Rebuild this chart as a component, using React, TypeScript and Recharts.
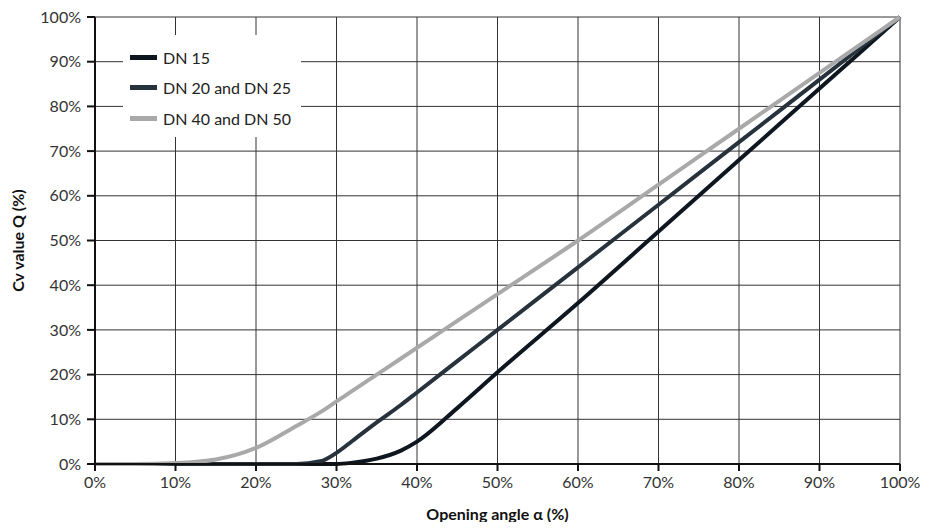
import React from 'react';
import { CartesianGrid, Line, LineChart, XAxis, YAxis } from 'recharts';

const angles = [0, 5, 10, 15, 20, 25, 28, 30, 32, 35, 38, 40, 45, 50, 60, 70, 80, 90, 100];
const dn15 = [0, 0, 0, 0, 0, 0, 0, 0, 0.3, 1.2, 3, 5, 12.5, 20.5, 36, 52, 68, 84, 100];
const dn20 = [0, 0, 0, 0, 0, 0, 0.6, 2.5, 5.2, 9.3, 13.2, 16, 23, 30, 44, 58, 72, 86, 100];
const dn40 = [0, 0, 0.2, 1, 3.6, 8.5, 11.6, 14, 16.4, 20, 23.6, 26, 32, 38, 50, 62.5, 75, 87.5, 100];
const ticks = [0, 10, 20, 30, 40, 50, 60, 70, 80, 90, 100];

const series = [
  { key: 'dn15', name: 'DN 15', color: '#0e1620' },
  { key: 'dn20', name: 'DN 20 and DN 25', color: '#27323c' },
  { key: 'dn40', name: 'DN 40 and DN 50', color: '#a9a9a9' }
];

const data = angles.map((a, i) => ({ angle: a, dn15: dn15[i], dn20: dn20[i], dn40: dn40[i] }));

const font = 'Lato, "DejaVu Sans", sans-serif';

function LegendBox() {
  return (
    <div
      style={{
        position: 'absolute',
        left: 115,
        top: 27,
        background: '#fff',
        padding: '7px 10px 3px 7px',
        fontFamily: font,
        fontSize: 16,
        color: '#222'
      }}
    >
      {series.map((s) => (
        <div key={s.key} style={{ display: 'flex', alignItems: 'center', height: 30.5 }}>
          <span style={{ display: 'inline-block', width: 27, height: 5, background: s.color, marginRight: 6 }} />
          {s.name}
        </div>
      ))}
    </div>
  );
}

export default function App() {
  return (
    <div style={{ position: 'relative', width: 915, height: 514 }}>
      <LineChart width={915} height={514} data={data} margin={{ top: 9, right: 23, bottom: 0, left: 0 }}>
        <CartesianGrid stroke="#333" strokeWidth={1} horizontalValues={ticks} verticalValues={ticks} />
        <XAxis
          dataKey="angle"
          type="number"
          domain={[0, 100]}
          ticks={ticks}
          tickFormatter={(v) => `${v}%`}
          height={58}
          tickSize={7}
          tickMargin={6}
          stroke="#111"
          strokeWidth={2}
          tick={{ fill: '#333', fontSize: 16, fontFamily: font }}
          label={{ value: 'Opening angle α (%)', position: 'insideBottom', offset: 2, fill: '#111', fontSize: 16, fontWeight: 'bold', fontFamily: font }}
        />
        <YAxis
          type="number"
          domain={[0, 100]}
          ticks={ticks}
          tickFormatter={(v) => `${v}%`}
          width={87}
          tickSize={8}
          tickMargin={6}
          stroke="#111"
          strokeWidth={2}
          tick={{ fill: '#333', fontSize: 16, fontFamily: font }}
          label={{ value: 'Cv value Q (%)', angle: -90, position: 'insideLeft', offset: 10, style: { textAnchor: 'middle' }, fill: '#111', fontSize: 16, fontWeight: 'bold', fontFamily: font }}
        />
        {series.map((s) => (
          <Line
            key={s.key}
            dataKey={s.key}
            name={s.name}
            type="monotone"
            stroke={s.color}
            strokeWidth={4}
            dot={false}
            isAnimationActive={false}
          />
        ))}
      </LineChart>
      <LegendBox />
    </div>
  );
}
